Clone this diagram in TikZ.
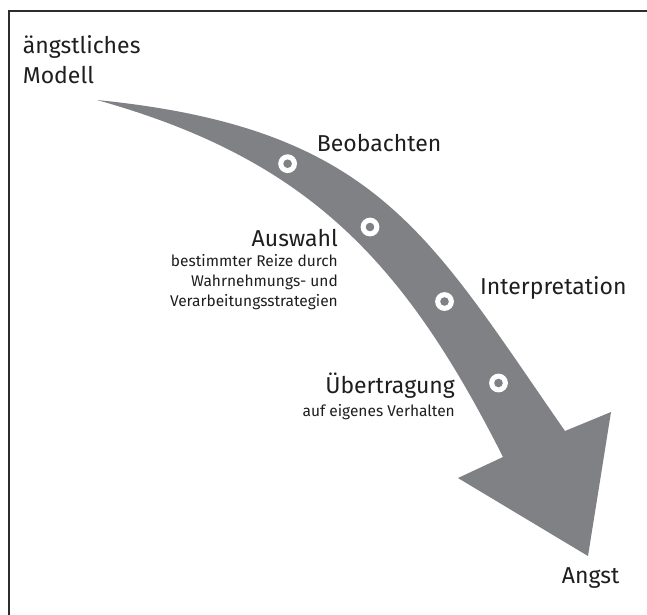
\documentclass[tikz,border=0pt]{standalone}
\usepackage{fontspec}
\setmainfont{Fira Sans}
\definecolor{bandgray}{RGB}{128,129,133}
\definecolor{framegray}{RGB}{45,45,45}
\definecolor{inkgray}{RGB}{30,30,30}
\begin{document}
\begin{tikzpicture}[x=1pt,y=-1pt,
  biglabel/.style={font=\fontsize{23}{27}\selectfont, inner sep=0pt, text=inkgray},
  smalllabel/.style={font=\fontsize{15.5}{20}\selectfont, inner sep=0pt, text=inkgray},
  stepmark/.style={fill=white, draw=none},
  stepdot/.style={fill=bandgray, draw=none}]
\useasboundingbox (0,0) rectangle (647,614);

% frame, running off the right and bottom edges
\begin{scope}
  \clip (0,0) rectangle (647,614);
  \draw[framegray, line width=1.4pt] (9,11) rectangle (700,700);
\end{scope}

% curved arrow
\fill[bandgray] (97,100)
  .. controls (377,128) and (428,234) .. (565,431)
  -- (611,412) -- (588,556) -- (458,478) -- (503,457)
  .. controls (404,261) and (308,159) .. (97,100) -- cycle;

% step markers along the arrow
\foreach \n/\px/\py in {1/287.6/163.7, 2/370/227, 3/444.5/301.5, 4/498.5/383}{
  \coordinate (m\n) at (\px,\py);
  \fill[stepmark] (m\n) circle (9.4);
  \fill[stepdot] (m\n) circle (4.3);
}

% labels
\node[biglabel, anchor=base west] (start1) at (22.7,53.3) {ängstliches};
\node[biglabel, anchor=base west] (start2) at (22.7,83.3) {Modell};
\node[biglabel, anchor=base west] (beob) at (316.7,151.7) {Beobachten};
\node[biglabel, anchor=base east] (ausw) at (338,246.7) {Auswahl};
\node[smalllabel, anchor=base east] (ausw1) at (338,266.7) {bestimmter Reize durch};
\node[smalllabel, anchor=base east] (ausw2) at (338,286.7) {Wahrnehmungs- und};
\node[smalllabel, anchor=base east] (ausw3) at (338,306.7) {Verarbeitungsstrategien};
\node[biglabel, anchor=base west] (interp) at (480,294.4) {Interpretation};
\node[biglabel, anchor=base east] (uebert) at (455,393) {Übertragung};
\node[smalllabel, anchor=base east] (uebert1) at (455,416.7) {auf eigenes Verhalten};
\node[biglabel, anchor=base west] (angst) at (561.7,583) {Angst};
\end{tikzpicture}
\end{document}
